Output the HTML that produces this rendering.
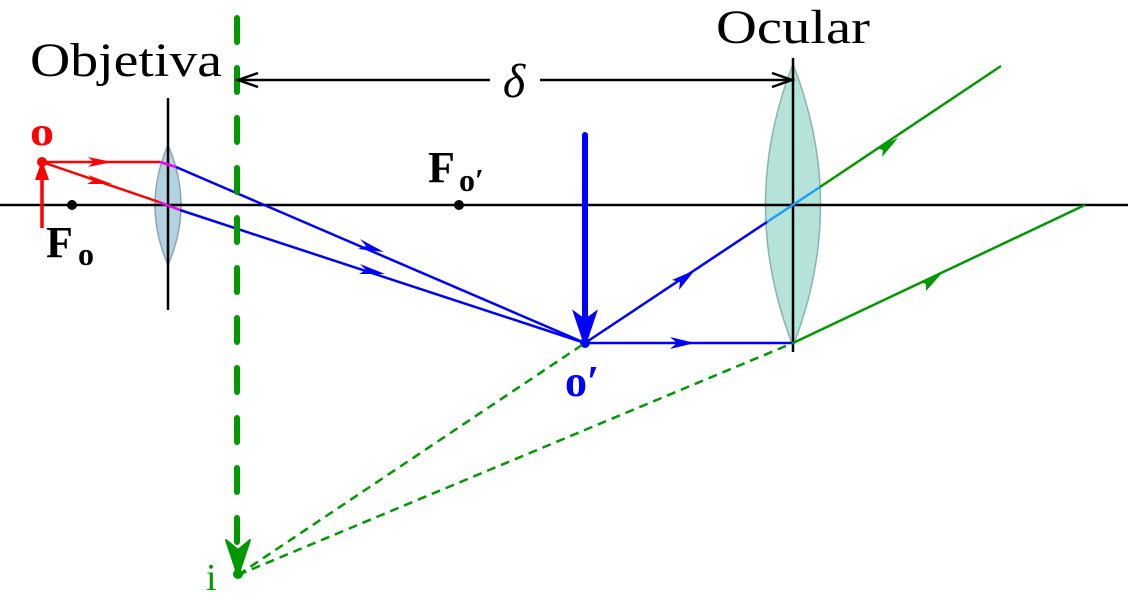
<!DOCTYPE html>
<html><head><meta charset="utf-8"><style>html,body{margin:0;padding:0;background:#fff}svg{display:block}</style></head><body>
<svg width="1128" height="598" viewBox="0 0 1128 598" xmlns="http://www.w3.org/2000/svg" font-family="'Liberation Serif', serif">
<path d="M168,145 Q142,205 168,265 Q194,205 168,145 Z" fill="#b3d3e0" stroke="#8aa7b3" stroke-width="1.5"/>
<path d="M793,64 Q738,205 793,346 Q848,205 793,64 Z" fill="#b5e3da" stroke="#8bb3ad" stroke-width="1.5"/>
<line x1="0" y1="205" x2="1128" y2="205" stroke="#000" stroke-width="2.5"/>
<line x1="168" y1="98" x2="168" y2="310" stroke="#000" stroke-width="2.5"/>
<line x1="793" y1="58" x2="793" y2="352" stroke="#000" stroke-width="2.5"/>
<line x1="42" y1="162" x2="160" y2="162" stroke="#f00" stroke-width="2.5"/>
<line x1="42" y1="162" x2="159" y2="202" stroke="#f00" stroke-width="2.5"/>
<line x1="160" y1="162" x2="176" y2="167" stroke="#e0e" stroke-width="2.5"/>
<line x1="159" y1="202" x2="180" y2="210" stroke="#e0e" stroke-width="2.5"/>
<path d="M88,157 L112,162 L88,167 L94,162Z" fill="#f00"/>
<path d="M88,175 L112,184 L87,184 L94,180Z" fill="#f00"/>
<line x1="42" y1="228" x2="42" y2="172" stroke="#f00" stroke-width="3.5"/>
<path d="M35,180 L42,160 L49,180 Z" fill="#f00"/>
<circle cx="42" cy="162" r="5" fill="#f00"/>
<circle cx="72" cy="205" r="5" fill="#000"/>
<circle cx="459" cy="205" r="5" fill="#000"/>
<line x1="176" y1="167" x2="585" y2="343" stroke="#00f" stroke-width="2.5"/>
<line x1="180" y1="210" x2="585" y2="343" stroke="#00f" stroke-width="2.5"/>
<path d="M360,239 L384,252 L358,249 L366,246Z" fill="#00f"/>
<path d="M360,264 L385,274 L359,274 L366,270Z" fill="#00f"/>
<line x1="585" y1="343" x2="767" y2="222" stroke="#00f" stroke-width="2.5"/>
<line x1="767" y1="222" x2="820" y2="187" stroke="#1a9fff" stroke-width="2.5"/>
<line x1="585" y1="343" x2="793" y2="343" stroke="#00f" stroke-width="2.5"/>
<path d="M670,337 L695,343 L670,349 L677,343Z" fill="#00f"/>
<path d="M672,280 L695,270 L679,290 L680,282Z" fill="#00f"/>
<line x1="585" y1="135" x2="585" y2="320" stroke="#00f" stroke-width="6" stroke-linecap="round"/>
<path d="M574,312 L585,345 L596,312 L585,320Z" fill="#00f" stroke="#00f" stroke-width="2"/>
<circle cx="585" cy="343" r="5" fill="#00f"/>
<line x1="820" y1="187" x2="1001" y2="66" stroke="#090" stroke-width="2.5"/>
<line x1="793" y1="343" x2="1085" y2="205" stroke="#090" stroke-width="2.5"/>
<path d="M876,148 L898,138 L882,157 L883,150Z" fill="#090"/>
<path d="M920,282 L943,272 L926,291 L926,284Z" fill="#090"/>
<line x1="238" y1="575" x2="585" y2="343" stroke="#090" stroke-width="2.5" stroke-dasharray="9,6"/>
<line x1="238" y1="575" x2="793" y2="343" stroke="#090" stroke-width="2.5" stroke-dasharray="9,6"/>
<line x1="237" y1="18" x2="237" y2="545" stroke="#090" stroke-width="6" stroke-linecap="round" stroke-dasharray="24,26"/>
<path d="M226,540 L238,576 L250,540 L238,550Z" fill="#090" stroke="#090" stroke-width="2" stroke-linejoin="round"/>
<circle cx="238" cy="574" r="5" fill="#090"/>
<line x1="240" y1="80" x2="490" y2="80" stroke="#000" stroke-width="2.5"/>
<line x1="540" y1="80" x2="790" y2="80" stroke="#000" stroke-width="2.5"/>
<path d="M258,73 L238,80 L258,87 M772,73 L792,80 L772,87" fill="none" stroke="#000" stroke-width="2.5"/>
<text x="514" y="97" font-size="48" font-style="italic" text-anchor="middle">δ</text>
<text x="30" y="76" font-size="48" textLength="192" lengthAdjust="spacingAndGlyphs">Objetiva</text>
<text x="716" y="43" font-size="48" textLength="154" lengthAdjust="spacingAndGlyphs">Ocular</text>
<text x="30" y="145" font-size="40" fill="#f00" font-weight="bold" textLength="24" lengthAdjust="spacingAndGlyphs">o</text>
<text x="46" y="257" font-size="44" font-weight="bold">F</text>
<text x="78" y="265" font-size="32" font-weight="bold">o</text>
<text x="428" y="182" font-size="44" font-weight="bold">F</text>
<text x="459" y="191" font-size="32" font-weight="bold">o′</text>
<text x="565" y="396" font-size="44" fill="#00f" font-weight="bold">o′</text>
<text x="206" y="590" font-size="38" fill="#090">i</text>
</svg>
</body></html>
